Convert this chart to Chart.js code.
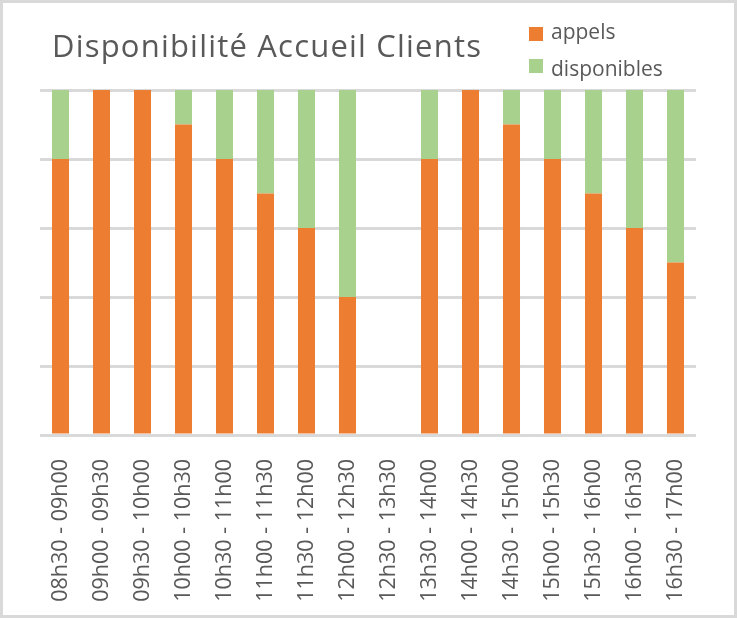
<!DOCTYPE html>
<html>
<head>
<meta charset="utf-8">
<script src="https://cdn.jsdelivr.net/npm/chart.js@4"></script>
<style>
  html, body { margin: 0; padding: 0; background: #fff; }
  #frame {
    position: relative;
    width: 737px; height: 618px;
    box-sizing: border-box;
    border: 3px solid #d9d9d9;
    background: #fff;
    font-family: "Open Sans", sans-serif;
    color: #595959;
  }
  #box { position: absolute; left: 0; top: 0; width: 731px; height: 612px; }
  #title {
    position: absolute; left: 49px; top: 27px;
    font-size: 31px; line-height: 31px; letter-spacing: 1.2px;
    white-space: nowrap;
  }
  .leg { position: absolute; left: 526px; width: 14px; height: 14px; }
  .legtxt { position: absolute; left: 548px; font-size: 21px; line-height: 21px; white-space: nowrap; }
</style>
</head>
<body>
<div id="frame">
  <div id="box"><canvas id="chart"></canvas></div>
  <div id="title">Disponibilité Accueil Clients</div>
  <div id="legend"></div>
</div>
<script>
  const categories = [
    "08h30 - 09h00", "09h00 - 09h30", "09h30 - 10h00", "10h00 - 10h30",
    "10h30 - 11h00", "11h00 - 11h30", "11h30 - 12h00", "12h00 - 12h30",
    "12h30 - 13h30", "13h30 - 14h00", "14h00 - 14h30", "14h30 - 15h00",
    "15h00 - 15h30", "15h30 - 16h00", "16h00 - 16h30", "16h30 - 17h00"
  ];
  const appels = [80, 100, 100, 90, 80, 70, 60, 40, 0, 80, 100, 90, 80, 70, 60, 50];
  const disponibles = [20, 0, 0, 10, 20, 30, 40, 60, 0, 20, 0, 10, 20, 30, 40, 50];

  const ORANGE = "#ED7D31";
  const GREEN = "#A9D18E";
  const TEXT = "#595959";
  const GRID = "#d9d9d9";

  // html legend, two rows stacked at the top right
  const legendItems = [
    { label: "appels", color: ORANGE, sq: 24, txt: 18 },
    { label: "disponibles", color: GREEN, sq: 56, txt: 54.5 }
  ];
  document.getElementById("legend").innerHTML = legendItems.map(function (it) {
    return '<div class="leg" style="top:' + it.sq + 'px;background:' + it.color + ';"></div>' +
      '<div class="legtxt" style="top:' + it.txt + 'px;">' + it.label + '</div>';
  }).join("");

  new Chart(document.getElementById("chart"), {
    type: "bar",
    data: {
      labels: categories,
      datasets: [
        { label: "appels", data: appels, backgroundColor: ORANGE, borderWidth: 0 },
        { label: "disponibles", data: disponibles, backgroundColor: GREEN, borderWidth: 0 }
      ]
    },
    options: {
      responsive: true,
      maintainAspectRatio: false,
      animation: false,
      datasets: { bar: { categoryPercentage: 1, barPercentage: 0.415 } },
      layout: { padding: { left: 37, right: 38, top: 87, bottom: 0 } },
      plugins: {
        legend: { display: false },
        title: { display: false },
        tooltip: { enabled: false }
      },
      scales: {
        x: {
          stacked: true,
          grid: { display: false },
          border: { display: false },
          ticks: {
            autoSkip: false,
            minRotation: 90,
            maxRotation: 90,
            padding: 16,
            color: TEXT,
            font: { family: "Open Sans", size: 21.5 }
          },
          afterFit: function (scale) { scale.height = 180; }
        },
        y: {
          stacked: true,
          min: 0,
          max: 100,
          border: { display: false },
          grid: { color: GRID, lineWidth: 3, drawTicks: false },
          ticks: { display: false, stepSize: 20 },
          afterFit: function (scale) { scale.width = 0; }
        }
      }
    }
  });
</script>
</body>
</html>
